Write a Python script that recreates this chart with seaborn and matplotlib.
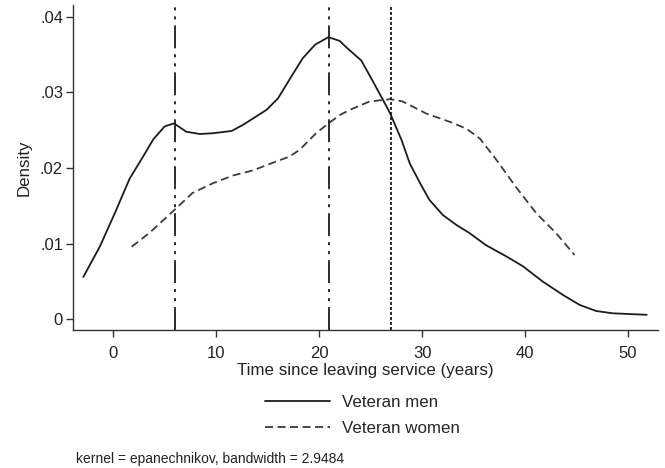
import numpy as np
import pandas as pd
import matplotlib
matplotlib.use("Agg")
import matplotlib.pyplot as plt
import seaborn as sns

# ---- data ----
men_x = [-2.9, -1.3, 0.15, 1.6, 2.9, 3.9, 5.0, 5.9, 7.1, 8.4, 9.7, 11.5, 12.6, 14.9, 16.0,
         17.3, 18.4, 19.6, 20.9, 22.0, 22.6, 24.1, 25.2, 26.2, 26.9, 28.0, 28.8, 29.8, 30.7,
         32.0, 33.3, 34.6, 36.2, 38.2, 39.8, 41.7, 43.7, 45.3, 46.9, 48.5, 50.1, 51.8]
men_y = [0.0056, 0.0096, 0.0140, 0.0186, 0.0215, 0.0238, 0.0255, 0.0259, 0.0248, 0.0245,
         0.0246, 0.0249, 0.0257, 0.0277, 0.0292, 0.0321, 0.0345, 0.0363, 0.0373, 0.0368,
         0.0360, 0.0342, 0.0315, 0.0290, 0.0272, 0.0237, 0.0206, 0.0180, 0.0158, 0.0138,
         0.0125, 0.0114, 0.0098, 0.0083, 0.0070, 0.0050, 0.0032, 0.0019, 0.0011, 0.0008,
         0.0007, 0.0006]
women_x = [1.8, 3.5, 5.9, 7.7, 9.7, 11.6, 13.6, 15.5, 17.1, 18.1, 19.7, 21.0, 22.0, 23.0,
           24.9, 26.9, 28.1, 30.4, 32.7, 34.3, 35.6, 37.2, 39.1, 41.1, 43.0, 44.8]
women_y = [0.0096, 0.0114, 0.0144, 0.0167, 0.0180, 0.0190, 0.0197, 0.0207, 0.0215, 0.0224,
           0.0246, 0.0260, 0.0270, 0.0277, 0.0288, 0.0291, 0.0288, 0.0272, 0.0261, 0.0252,
           0.0239, 0.0211, 0.0175, 0.0140, 0.0114, 0.0085]
vlines_x = [6, 21, 27]
series_labels = ["Veteran men", "Veteran women"]
x_ticks = [0, 10, 20, 30, 40, 50]
y_ticks = [0, 0.01, 0.02, 0.03, 0.04]
y_tick_labels = ["0", ".01", ".02", ".03", ".04"]
x_label = "Time since leaving service (years)"
y_label = "Density"
note = "kernel = epanechnikov, bandwidth = 2.9484"

sns.set_style("ticks")
plt.rcParams["font.family"] = ["Liberation Sans", "DejaVu Sans"]
plt.rcParams["lines.scale_dashes"] = False

fig = plt.figure(figsize=(6.65, 4.68), dpi=100)
ax = fig.add_axes([73 / 665, 1 - 330 / 468, (658 - 73) / 665, (330 - 5) / 468])

df_men = pd.DataFrame({"x": men_x, "y": men_y})
df_women = pd.DataFrame({"x": women_x, "y": women_y})
line_col = "#1c1c1c"
women_col = "#3c3c3c"
sns.lineplot(data=df_men, x="x", y="y", ax=ax, color=line_col, lw=1.3,
             label=series_labels[0], sort=False)
sns.lineplot(data=df_women, x="x", y="y", ax=ax, color=women_col, lw=1.3,
             label=series_labels[1], sort=False)
ax.lines[1].set_dashes((5.8, 3.2))

dashdotdot = (0, (16.5, 4.3, 2.2, 4.3, 2.2, 4.3))
ax.axvline(vlines_x[0], color=line_col, lw=1.3, linestyle=dashdotdot)
ax.axvline(vlines_x[1], color=line_col, lw=1.3, linestyle=dashdotdot)
ax.axvline(vlines_x[2], color=line_col, lw=1.3, linestyle=(0, (2.2, 1.4)))

ax.set_xlim(-3.9, 52.9)
ax.set_ylim(-0.00141, 0.04155)
ax.set_xticks(x_ticks)
ax.set_xticklabels([str(t) for t in x_ticks])
ax.set_yticks(y_ticks)
ax.set_yticklabels(y_tick_labels)
for s in ["top", "right"]:
    ax.spines[s].set_visible(False)
for s in ["left", "bottom"]:
    ax.spines[s].set_color("#333333")
    ax.spines[s].set_linewidth(1.0)
ax.tick_params(axis="both", colors="#333333", labelcolor="#222222", labelsize=12,
               length=5.2, width=1.0)
ax.tick_params(axis="x", pad=6)
ax.tick_params(axis="y", pad=2)
ax.set_xlabel(x_label, fontsize=12.2, color="#222222", labelpad=2)
ax.set_ylabel(y_label, fontsize=12.2, color="#222222", labelpad=6)

handles, labels = ax.get_legend_handles_labels()
if ax.legend_:
    ax.legend_.remove()
handles[1].set_dashes((5.8, 3.2))
fig.legend(handles, labels, loc="center left",
           bbox_to_anchor=(265 / 665, 1 - 415.5 / 468), frameon=False,
           fontsize=12.2, handlelength=3.85, handletextpad=0.68, labelspacing=0.62,
           borderpad=0, borderaxespad=0)

fig.text(76 / 665, 1 - 459 / 468, note, fontsize=10, color="#222222", va="center")

fig.savefig("out.png", dpi=100)
